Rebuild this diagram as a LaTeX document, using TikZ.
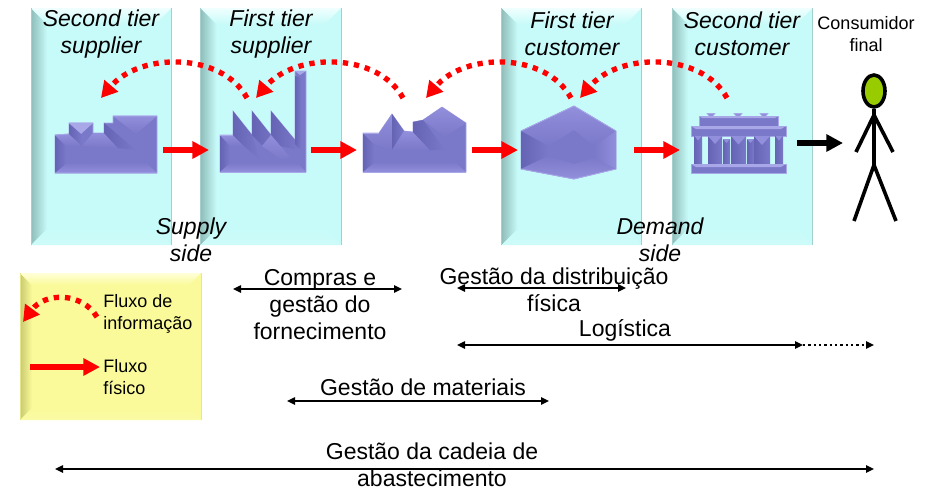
\documentclass[tikz,border=0pt]{standalone}
\usepackage{fontspec}
\setmainfont{Liberation Sans}
\usetikzlibrary{arrows.meta,shapes.geometric}
\definecolor{teal1}{HTML}{C7FBF9}
\definecolor{teal2}{HTML}{8FBDBA}
\definecolor{teal3}{HTML}{F0FFFE}
\definecolor{teal4}{HTML}{A3CFCD}
\definecolor{yel1}{HTML}{FAFA9A}
\definecolor{yel2}{HTML}{C9C970}
\definecolor{yel3}{HTML}{FFFFD8}
\definecolor{yel4}{HTML}{E6E68A}
\definecolor{vio}{HTML}{7A78C8}
\definecolor{viod}{HTML}{6563B4}
\definecolor{viol}{HTML}{A8A7E8}
\definecolor{viom}{HTML}{9290DC}
\definecolor{limeh}{HTML}{99CC00}
\newcommand{\bevelbox}[9]{%
 % x1 y1 x2 y2 bevel face dark light edge
 \fill[#6] (#1,#2) rectangle (#3,#4);
 \path[left color=#7,right color=#6] (#1,#2) -- ({#1+#5},{#2+#5}) -- ({#1+#5},{#4-#5}) -- (#1,#4) -- cycle;
 \path[top color=#8,bottom color=#6] (#1,#2) -- (#3,#2) -- ({#3-#5},{#2+#5}) -- ({#1+#5},{#2+#5}) -- cycle;
 \path[top color=#6,bottom color=#6!88!white] (#1,#4) -- (#3,#4) -- ({#3-#5},{#4-#5}) -- ({#1+#5},{#4-#5}) -- cycle;
 \draw[#9,line width=0.7pt] (#3,#2) -- (#3,#4) (#1,#2) -- (#1,#4);
}
\tikzset{
 x=0.75pt,y=-0.75pt,
 bigtxt/.style={font=\fontsize{17.25pt}{20.25pt}\selectfont,align=center,inner sep=0pt,text=black},
 tiertxt/.style={font=\fontsize{17.25pt}{20.25pt}\selectfont\itshape,align=center,inner sep=0pt,text=black},
 smalltxt/.style={font=\fontsize{13.5pt}{16.5pt}\selectfont,align=center,inner sep=0pt,text=black},
 legtxt/.style={font=\fontsize{13.5pt}{16.5pt}\selectfont,align=left,inner sep=0pt,anchor=west,text=black},
 flow/.style={red,line width=4.5pt,-{Triangle[length=12.5pt,width=12.5pt]}},
 blackflow/.style={black,line width=4.5pt,-{Triangle[length=12.5pt,width=12.5pt]}},
 info/.style={red,line width=4pt,dash pattern=on 4pt off 4.4pt,-{Triangle[length=12pt,width=13pt]}},
 span/.style={black,line width=1.1pt,{Triangle[length=6pt,width=5.5pt]}-{Triangle[length=6pt,width=5.5pt]}},
 spand/.style={black,line width=1.6pt,dash pattern=on 1.8pt off 2.2pt,-{Triangle[length=6pt,width=5.5pt]}},
 limb/.style={black,line width=2.7pt},
 solid3d/.style={fill=vio,draw=viol,line width=0.5pt},
 shL/.style={left color=viod,right color=vio},
 shT/.style={top color=viom,bottom color=vio},
 shB/.style={top color=vio,bottom color=viom},
 shR/.style={left color=vio,right color=viom},
 fb/.style={fill=viod},
 fa/.style={fill=viom},
 fc/.style={fill=viol},
}
\begin{document}
\begin{tikzpicture}
\useasboundingbox (0,0) rectangle (935,490);
\fill[white] (0,0) rectangle (935,490);

\bevelbox{31}{8}{171.5}{245}{16}{teal1}{teal2}{teal3}{teal4}
\bevelbox{200.5}{8}{341}{245}{16}{teal1}{teal2}{teal3}{teal4}
\bevelbox{501.5}{8}{641.5}{245}{16}{teal1}{teal2}{teal3}{teal4}
\bevelbox{672}{8}{812.5}{245}{16}{teal1}{teal2}{teal3}{teal4}
\bevelbox{20}{273}{201}{420}{12}{yel1}{yel2}{yel3}{yel4}

% factory 1
\path[solid3d] (55,173) -- (55,135) -- (69,134) -- (69,123) -- (93,123) -- (93,133) -- (104,133) -- (104,123) -- (113,123) -- (113,116) -- (157,116) -- (157,173) -- cycle;
\path[shL] (55,135) -- (66,146) -- (66,165) -- (55,173) -- cycle;
\path[shT] (55,135) -- (69,134) -- (82,146) -- (66,146) -- cycle;
\fill[fc] (69,123) -- (93,123) -- (81,134) -- cycle;
\path[shL] (69,124) -- (81,134) -- (82,146) -- (69,134) -- cycle;
\path[shT] (82,146) -- (93,133) -- (104,133) -- (118,148) -- cycle;
\path[shT] (113,116) -- (157,116) -- (136,134) -- cycle;
\path[shL] (104,123) -- (136,150) -- (118,148) -- (104,133) -- cycle;
\path[shB] (55,173) -- (157,173) -- (146,162) -- (66,164) -- cycle;
\draw[viol,line width=0.6pt] (55,173) -- (157,173) (113,116) -- (157,116) (69,123) -- (93,123) (55,135) -- (69,134);

% factory 2
\path[solid3d] (220,172) -- (220,135) -- (233,135) -- (233,111) -- (252,135) -- (252,111) -- (271,135) -- (271,111) -- (295,140) -- (295,71) -- (306,71) -- (306,172) -- cycle;
\path[shL] (220,135) -- (230,146) -- (230,163) -- (220,172) -- cycle;
\path[shT] (220,135) -- (233,135) -- (245,146) -- (230,146) -- cycle;
\path[shL] (233,111) -- (252,135) -- (260,160) -- (243,145) -- (233,135) -- cycle;
\path[shL] (252,111) -- (271,135) -- (280,155) -- (262,145) -- (252,135) -- cycle;
\path[shL] (271,111) -- (295,140) -- (298,150) -- (280,146) -- (271,135) -- cycle;
\path[shT] (262,146) -- (271,135) -- (290,157) -- (282,160) -- cycle;
\path[shL] (295,76) -- (301,78) -- (301,150) -- (295,144) -- cycle;
\fill[fc] (295,71) -- (306,71) -- (300,75) -- cycle;
\path[shB] (220,172) -- (306,172) -- (298,163) -- (230,163) -- cycle;
\draw[viol,line width=0.6pt] (220,172) -- (306,172) (220,135) -- (233,135);

% facility 3
\path[solid3d] (363,172) -- (363,133) -- (379,133) -- (392,114) -- (404,131) -- (413,132) -- (413,122) -- (423,120) -- (442,107) -- (466,123) -- (466,172) -- cycle;
\path[shL] (363,133) -- (374,144) -- (374,163) -- (363,172) -- cycle;
\path[shT] (363,133) -- (379,133) -- (392,114) -- (392,150) -- (374,144) -- cycle;
\path[shL] (392,114) -- (404,131) -- (392,150) -- cycle;
\path[shT] (392,150) -- (404,131) -- (413,132) -- (430,150) -- cycle;
\path[shT] (423,120) -- (442,107) -- (466,123) -- (445,137) -- cycle;
\path[shL] (413,122) -- (423,120) -- (445,150) -- (430,150) -- (413,132) -- cycle;
\path[shB] (363,172) -- (466,172) -- (455,162) -- (374,163) -- cycle;
\draw[viol,line width=0.6pt] (363,172) -- (466,172) (363,133) -- (379,133);

% hexagon 4
\path[solid3d] (521,131) -- (574,106) -- (616,131) -- (616,169) -- (574,179) -- (521,169) -- cycle;
\path[shT] (521,131) -- (574,106) -- (616,131) -- (594,146) -- (574,130) -- (548,146) -- cycle;
\path[shL] (521,131) -- (548,146) -- (548,156) -- (521,169) -- cycle;
\path[shR] (616,131) -- (594,146) -- (594,158) -- (616,169) -- cycle;
\path[shB] (521,169) -- (574,179) -- (616,169) -- (594,158) -- (574,164) -- (548,156) -- cycle;
\draw[viol,line width=0.6pt] (521,131) -- (574,106) -- (616,131) (521,169) -- (574,179) -- (616,169);

% temple 5
\path[solid3d] (699,116) rectangle (778,126);
\path[solid3d] (691,126) rectangle (786,136);
\path[shL] (694,136) rectangle (702,164);
\path[shL] (775,136) rectangle (783,164);
\path[shL] (708,136) rectangle (722,164);
\path[shL] (723,139) rectangle (730,167);
\path[shL] (731,136) rectangle (746,167);
\path[shL] (747,139) rectangle (754,167);
\path[shL] (754,136) rectangle (770,164);
\path[solid3d] (691,164) rectangle (786,173);
\foreach \cx in {711,738,764} \path[fill=viom,draw=viol,line width=0.4pt] ({\cx-4},113.5) -- ({\cx+4},113.5) -- (\cx,118) -- cycle;
\foreach \cx/\w in {698/3.5,715/7,738.5/7.5,762/8,779/3.5} \fill[fa] ({\cx-\w},136) -- ({\cx+\w},136) -- (\cx,{136+\w+1}) -- cycle;
\foreach \cx in {726.5,750.5} \fill[fa] ({\cx-3.5},139) -- ({\cx+3.5},139) -- (\cx,143) -- cycle;
\fill[fc] (691,126) -- (786,126) -- (781,129) -- (696,129) -- cycle;
\fill[fc] (691,164) -- (786,164) -- (781,167) -- (696,167) -- cycle;
\fill[fc] (699,116) -- (778,116) -- (775,118) -- (702,118) -- cycle;

% tier labels
\node[tiertxt] (t1) at (101,34) {Second tier\\supplier};
\node[tiertxt] (t2) at (271,34) {First tier\\supplier};
\node[tiertxt] (t3) at (572,34) {First tier\\customer};
\node[tiertxt] (t4) at (742,34) {Second tier\\customer};
\node[smalltxt] (cf) at (866,34) {Consumidor\\final};
\node[tiertxt] (ss) at (191,240) {Supply\\side};
\node[tiertxt] (ds) at (660,240) {Demand\\side};

% physical flow
\coordinate (f1s) at (163,150); \coordinate (f1e) at (209,150);
\coordinate (f2s) at (311,150); \coordinate (f2e) at (357,150);
\coordinate (f3s) at (472,150); \coordinate (f3e) at (518,150);
\coordinate (f4s) at (634,150); \coordinate (f4e) at (680,150);
\coordinate (f5s) at (797,143); \coordinate (f5e) at (843,143);
\draw[flow] (f1s) -- (f1e);
\draw[flow] (f2s) -- (f2e);
\draw[flow] (f3s) -- (f3e);
\draw[flow] (f4s) -- (f4e);
\draw[blackflow] (f5s) -- (f5e);

% information flow
\coordinate (i1s) at (247,98); \coordinate (i1e) at (101,98);
\coordinate (i2s) at (403,98); \coordinate (i2e) at (256,98);
\coordinate (i3s) at (571,98); \coordinate (i3e) at (426,98);
\coordinate (i4s) at (727,98); \coordinate (i4e) at (580,98);
\draw[info] (i1s) .. controls (222,52) and (140,52) .. (i1e);
\draw[info] (i2s) .. controls (378,52) and (295,52) .. (i2e);
\draw[info] (i3s) .. controls (546,52) and (465,52) .. (i3e);
\draw[info] (i4s) .. controls (702,52) and (619,52) .. (i4e);

% person
\coordinate (hip) at (874,165); \coordinate (sh) at (874,115);
\coordinate (hl) at (856,152); \coordinate (hr) at (893,152);
\coordinate (fl) at (854,221); \coordinate (fr) at (896,221);
\node[ellipse,draw=black,fill=limeh,line width=2.7pt,minimum width=16.5pt,minimum height=24pt,inner sep=0pt] (head) at (874,91) {};
\draw[limb] (head) -- (hip);
\draw[limb] (sh) -- (hl);
\draw[limb] (sh) -- (hr);
\draw[limb] (hip) -- (fl);
\draw[limb] (hip) -- (fr);

% legend
\coordinate (li1) at (97,317); \coordinate (li2) at (23,322);
\coordinate (lf1) at (30,367); \coordinate (lf2) at (100,367);
\draw[info] (li1) .. controls (82,292) and (45,292) .. (li2);
\draw[flow] (lf1) -- (lf2);
\node[legtxt] (l1) at (103,314) {Fluxo de\\informação};
\node[legtxt] (l2) at (103,377) {Fluxo\\físico};

% spans
\coordinate (s1a) at (233,289); \coordinate (s1b) at (402,289);
\coordinate (s2a) at (457,288); \coordinate (s2b) at (626,288);
\coordinate (s3a) at (457,345); \coordinate (s3b) at (803,345); \coordinate (s3c) at (874,345);
\coordinate (s4a) at (287,401); \coordinate (s4b) at (549,401);
\coordinate (s5a) at (55,469); \coordinate (s5b) at (874,469);
\draw[span] (s1a) -- (s1b);
\draw[span] (s2a) -- (s2b);
\draw[span] (s3a) -- (s3b);
\draw[spand] (s3b) -- (s3c);
\draw[span] (s4a) -- (s4b);
\draw[span] (s5a) -- (s5b);
\node[bigtxt] (c1) at (320,305) {Compras e\\gestão do\\fornecimento};
\node[bigtxt] (c2) at (554,290) {Gestão da distribuição\\física};
\node[bigtxt] (c3) at (625,330) {Logística};
\node[bigtxt] (c4) at (423,387) {Gestão de materiais};
\node[bigtxt] (c5) at (432,464.5) {Gestão da cadeia de\\abastecimento};
\end{tikzpicture}
\end{document}
